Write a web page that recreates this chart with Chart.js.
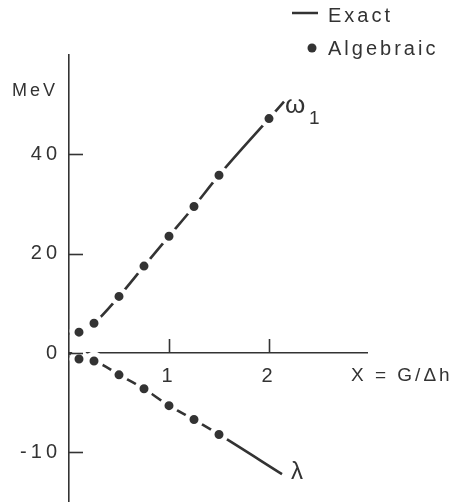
<!DOCTYPE html>
<html>
<head>
<meta charset="utf-8">
<script src="https://cdn.jsdelivr.net/npm/chart.js@4.4.1/dist/chart.umd.min.js"></script>
<style>
  html, body { margin: 0; padding: 0; background: #fff; }
  canvas { display: block; }
</style>
</head>
<body>
<canvas id="levels" width="454" height="502"></canvas>
<script>
// algebraic (dots) and exact (curve) energies vs X = G/Δh
const xAlgebraic = [0.1, 0.25, 0.5, 0.75, 1, 1.25, 1.5, 2];
const omegaAlgebraic = [4.2, 6.0, 11.4, 17.5, 23.5, 29.5, 35.8, 47.2];
const xLambdaAlgebraic = [0.1, 0.25, 0.5, 0.75, 1, 1.25, 1.5];
const lambdaAlgebraic = [-0.6, -0.8, -2.2, -3.6, -5.3, -6.7, -8.2];

const xOmegaExact = [0, 0.1, 0.25, 0.5, 0.75, 1, 1.25, 1.5, 2, 2.15];
const omegaExact = [4.0, 4.2, 6.0, 11.4, 17.5, 23.5, 29.5, 35.8, 47.2, 50.6];
const xLambdaExact = [0, 0.1, 0.25, 0.5, 0.75, 1, 1.25, 1.5, 2.13];
const lambdaExact = [0, -0.6, -0.8, -2.2, -3.6, -5.3, -6.7, -8.2, -12.2];

const yTicks = [-10, 0, 20, 40];
const xTicks = [1, 2];

const INK = '#333333';
const FONT = '"Liberation Sans", Arial, sans-serif';

// the energy axis is drawn at twice the scale below zero
const NEG_STRETCH = 2;

class SplitScale extends Chart.LinearScale {
  static id = 'split';
  static defaults = Chart.LinearScale.defaults;

  _warp(v) { return v < 0 ? v * NEG_STRETCH : v; }

  getPixelForValue(value) {
    const a = this._warp(this.min), b = this._warp(this.max);
    return this.getPixelForDecimal((this._warp(value) - a) / (b - a));
  }

  getValueForPixel(pixel) {
    const a = this._warp(this.min), b = this._warp(this.max);
    const t = a + this.getDecimalForPixel(pixel) * (b - a);
    return t < 0 ? t / NEG_STRETCH : t;
  }
}
Chart.register(SplitScale);

const pts = (xs, ys) => xs.map((x, i) => ({ x: x, y: ys[i] }));

const decorations = {
  id: 'decorations',
  beforeDraw(chart) {
    chart.ctx.letterSpacing = '4px';
  },
  afterDraw(chart) {
    const ctx = chart.ctx;
    const xs = chart.scales.x, ys = chart.scales.y;
    const area = chart.chartArea;
    ctx.save();
    ctx.strokeStyle = INK;
    ctx.fillStyle = INK;
    ctx.lineWidth = 1.6;

    // tick marks point into the plot
    yTicks.forEach(v => {
      const py = Math.round(ys.getPixelForValue(v)) + 0.5;
      ctx.beginPath();
      ctx.moveTo(area.left, py);
      ctx.lineTo(area.left + 14, py);
      ctx.stroke();
    });
    const y0 = ys.getPixelForValue(0);
    xTicks.forEach(v => {
      const px = Math.round(xs.getPixelForValue(v)) + 0.5;
      ctx.beginPath();
      ctx.moveTo(px, y0);
      ctx.lineTo(px, y0 - 14);
      ctx.stroke();
    });

    ctx.textBaseline = 'middle';
    ctx.textAlign = 'left';
    ctx.letterSpacing = '3px';
    ctx.font = '18px ' + FONT;
    ctx.fillText('MeV', 12, 91);

    ctx.font = '19px ' + FONT;
    ctx.fillText('X = G/Δh', 351, 376);

    // legend
    const line = chart.data.datasets[2];
    const dots = chart.data.datasets[0];
    ctx.font = '20px ' + FONT;
    ctx.lineWidth = 2.5;
    ctx.strokeStyle = line.borderColor;
    ctx.beginPath();
    ctx.moveTo(292, 13);
    ctx.lineTo(318, 13);
    ctx.stroke();
    ctx.fillText(line.label, 328, 16);
    ctx.beginPath();
    ctx.fillStyle = dots.backgroundColor;
    ctx.arc(312, 48, 4.5, 0, Math.PI * 2);
    ctx.fill();
    ctx.fillStyle = INK;
    ctx.fillText(dots.label, 328, 49);

    // curve names at the line ends
    ctx.letterSpacing = '0px';
    const n = xOmegaExact.length - 1;
    const ox = xs.getPixelForValue(xOmegaExact[n]);
    const oy = ys.getPixelForValue(omegaExact[n]);
    ctx.font = '26px ' + FONT;
    ctx.fillText('ω', ox + 1, oy + 4);
    ctx.textBaseline = 'alphabetic';
    ctx.font = '19px ' + FONT;
    ctx.fillText('1', ox + 25, oy + 22);

    const m = xLambdaExact.length - 1;
    const lx = xs.getPixelForValue(xLambdaExact[m]);
    const ly = ys.getPixelForValue(lambdaExact[m]);
    ctx.textBaseline = 'middle';
    ctx.font = '24px ' + FONT;
    ctx.fillText('λ', lx + 9, ly - 2);
    ctx.restore();
  }
};

new Chart(document.getElementById('levels'), {
  type: 'scatter',
  data: {
    datasets: [
      {
        label: 'Algebraic',
        data: pts(xAlgebraic, omegaAlgebraic),
        backgroundColor: INK,
        borderColor: '#ffffff',
        borderWidth: 5,
        pointRadius: 7,
        order: 0
      },
      {
        label: 'Algebraic λ',
        data: pts(xLambdaAlgebraic, lambdaAlgebraic),
        backgroundColor: INK,
        borderColor: '#ffffff',
        borderWidth: 5,
        pointRadius: 7,
        order: 0
      },
      {
        label: 'Exact',
        data: pts(xOmegaExact, omegaExact),
        showLine: true,
        borderColor: INK,
        borderWidth: 2.6,
        pointRadius: 0,
        cubicInterpolationMode: 'monotone',
        order: 1
      },
      {
        label: 'Exact λ',
        data: pts(xLambdaExact, lambdaExact),
        showLine: true,
        borderColor: INK,
        borderWidth: 2.6,
        pointRadius: 0,
        cubicInterpolationMode: 'monotone',
        order: 1
      }
    ]
  },
  options: {
    responsive: false,
    animation: false,
    devicePixelRatio: 1,
    layout: { autoPadding: false, padding: { top: 55, right: 87, bottom: 0, left: 0 } },
    plugins: {
      legend: { display: false },
      tooltip: { enabled: false }
    },
    scales: {
      x: {
        type: 'linear',
        position: { y: 0 },
        min: 0,
        max: 2.98,
        z: 1,
        afterBuildTicks: s => { s.ticks = xTicks.map(v => ({ value: v })); },
        afterFit: s => { s.height = 0; s.paddingLeft = 0; s.paddingRight = 0; },
        grid: { display: false, drawTicks: false },
        border: { display: true, color: INK, width: 1.6 },
        ticks: {
          padding: 11,
          color: INK,
          maxRotation: 0,
          font: { family: FONT, size: 20 }
        }
      },
      y: {
        type: 'split',
        position: 'left',
        min: -15,
        max: 60,
        z: 1,
        afterBuildTicks: s => { s.ticks = yTicks.map(v => ({ value: v })); },
        afterFit: s => { s.width = 69; s.paddingTop = 0; s.paddingBottom = 0; },
        grid: { display: false, drawTicks: false },
        border: { display: true, color: INK, width: 1.6 },
        ticks: {
          padding: 8,
          color: INK,
          font: { family: FONT, size: 20 }
        }
      }
    }
  },
  plugins: [decorations]
});
</script>
</body>
</html>
